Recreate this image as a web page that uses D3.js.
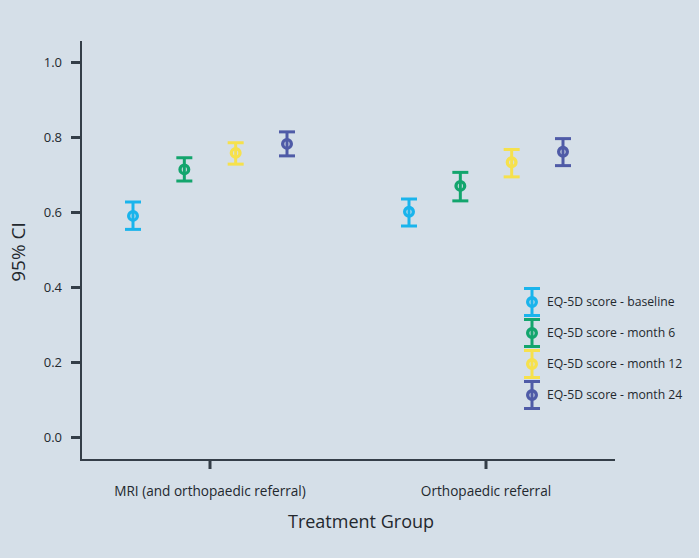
<!DOCTYPE html>
<html><head><meta charset="utf-8">
<script src="https://cdn.jsdelivr.net/npm/d3@7"></script>
<style>body{margin:0;background:#d5dfe8;} svg{display:block;}</style>
</head><body>
<script>
const groups = ["MRI (and orthopaedic referral)", "Orthopaedic referral"];
const series = ["EQ-5D score - baseline", "EQ-5D score - month 6", "EQ-5D score - month 12", "EQ-5D score - month 24"];
const colors = ["#1ab4ec", "#13a56d", "#f6e14c", "#4f5ba7"];
const means = [[0.591, 0.715, 0.759, 0.783], [0.602, 0.671, 0.734, 0.762]];
const lowers = [[0.555, 0.684, 0.729, 0.751], [0.564, 0.631, 0.695, 0.725]];
const uppers = [[0.628, 0.746, 0.786, 0.815], [0.636, 0.707, 0.768, 0.797]];
const yTicks = [0.0, 0.2, 0.4, 0.6, 0.8, 1.0];

const W = 699, H = 558;
const svg = d3.select("body").append("svg").attr("width", W).attr("height", H);
svg.append("rect").attr("width", W).attr("height", H).attr("fill", "#d5dfe8");
const font = "'Open Sans', sans-serif";
const axisCol = "#343e48";
const txtCol = "#23282e";

const y = d3.scaleLinear().domain([0, 1]).range([437.5, 62.5]);
const x = d3.scalePoint().domain(groups).range([210, 486]);
const off = d3.scalePoint().domain(series).range([-77, 77]);

// axes lines
svg.append("line").attr("x1", 81).attr("x2", 81).attr("y1", 41).attr("y2", 460)
  .attr("stroke", axisCol).attr("stroke-width", 2);
svg.append("line").attr("x1", 80).attr("x2", 615).attr("y1", 460).attr("y2", 460)
  .attr("stroke", axisCol).attr("stroke-width", 2);

// y ticks
const yt = svg.append("g");
yTicks.forEach(t => {
  yt.append("line").attr("x1", 71).attr("x2", 81).attr("y1", y(t)).attr("y2", y(t))
    .attr("stroke", axisCol).attr("stroke-width", 3);
  yt.append("text").attr("x", 62).attr("y", y(t)).attr("dy", "0.35em")
    .attr("text-anchor", "end").attr("font-family", font).attr("font-size", 13)
    .attr("fill", txtCol).text(t.toFixed(1));
});
// x ticks
groups.forEach(g => {
  svg.append("line").attr("x1", x(g)).attr("x2", x(g)).attr("y1", 460).attr("y2", 469)
    .attr("stroke", axisCol).attr("stroke-width", 3);
  svg.append("text").attr("x", x(g)).attr("y", 496).attr("text-anchor", "middle")
    .attr("font-family", font).attr("font-size", 13.6).attr("fill", txtCol).text(g);
});
svg.append("text").attr("x", 361).attr("y", 528).attr("text-anchor", "middle")
  .attr("font-family", font).attr("font-size", 18).attr("fill", txtCol).text("Treatment Group");
svg.append("text").attr("transform", "translate(25,252) rotate(-90)").attr("text-anchor", "middle")
  .attr("font-family", font).attr("font-size", 19).attr("fill", txtCol).text("95% CI");

function marker(g, cx, cy, ylo, yhi, col) {
  g.append("line").attr("x1", cx).attr("x2", cx).attr("y1", yhi).attr("y2", ylo)
    .attr("stroke", col).attr("stroke-width", 3);
  g.append("line").attr("x1", cx - 8).attr("x2", cx + 8).attr("y1", yhi).attr("y2", yhi)
    .attr("stroke", col).attr("stroke-width", 3);
  g.append("line").attr("x1", cx - 8).attr("x2", cx + 8).attr("y1", ylo).attr("y2", ylo)
    .attr("stroke", col).attr("stroke-width", 3);
  g.append("circle").attr("cx", cx).attr("cy", cy).attr("r", 4.3)
    .attr("fill", "none").attr("stroke", col).attr("stroke-width", 3.4);
}

const pts = svg.append("g");
groups.forEach((g, gi) => {
  series.forEach((s, si) => {
    marker(pts, x(g) + off(s), y(means[gi][si]), y(lowers[gi][si]), y(uppers[gi][si]), colors[si]);
  });
});

// legend
const lg = svg.append("g");
series.forEach((s, i) => {
  const cy = 302 + i * 31;
  marker(lg, 532, cy, cy + 13.5, cy - 13.5, colors[i]);
  lg.append("text").attr("x", 547).attr("y", cy).attr("dy", "0.35em")
    .attr("font-family", font).attr("font-size", 12.2).attr("fill", txtCol).text(s);
});
</script>
</body></html>
